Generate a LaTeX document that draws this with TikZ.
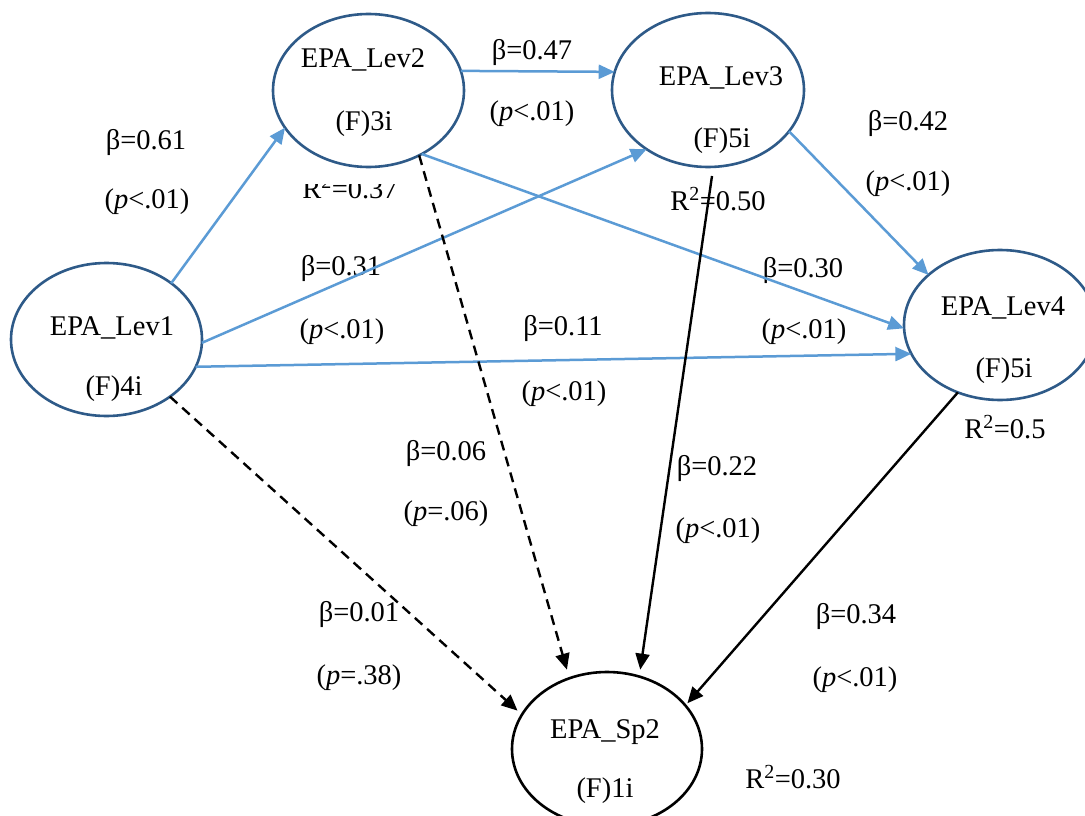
\documentclass[tikz,border=0pt]{standalone}
\usepackage{fontspec}
\setmainfont{Liberation Serif}
\usetikzlibrary{shapes.geometric,arrows.meta}
\definecolor{ringblue}{HTML}{2E5A88}
\definecolor{pathblue}{HTML}{5B9BD5}
\tikzset{
  latent/.style={ellipse, draw=ringblue, line width=2.6pt, minimum width=191pt, minimum height=153pt, inner sep=0pt, outer sep=0pt},
  outcome/.style={latent, draw=black},
  lbl/.style={anchor=base, inner sep=0pt, font=\fontsize{28.5}{34}\selectfont},
  bluepath/.style={draw=pathblue, line width=2.5pt, -{Triangle[length=16pt,width=14pt]}},
  blackpath/.style={draw=black, line width=2.4pt, -{Triangle[length=16pt,width=14pt]}},
  nspath/.style={blackpath, dash pattern=on 10pt off 6.5pt},
}
\begin{document}
\begin{tikzpicture}[x=1pt,y=-1pt]
\useasboundingbox (0,0) rectangle (1085,816);
\fill[white] (0,0) rectangle (1085,816);
\clip (0,0) rectangle (1085,816);

% latent constructs
\node[latent] (lev1) at (106.5,339.5) {};
\node[latent] (lev2) at (368.5,90.5) {};
\node[latent, minimum width=192pt, minimum height=154pt] (lev3) at (708,90) {};
\node[latent, minimum width=192pt, minimum height=150pt] (lev4) at (1000,325) {};
\node[outcome, minimum width=190pt, minimum height=154pt] (sp2) at (607,749) {};

% construct names and indicator counts
\node[lbl] (t1a) at (112,335) {EPA\_Lev1};
\node[lbl] (t1b) at (114,395) {(F)4i};
\node[lbl] (t2a) at (363,68) {EPA\_Lev2};
\node[lbl] (t2b) at (364,130) {(F)3i};
\node[lbl] (t3a) at (721,85) {EPA\_Lev3};
\node[lbl] (t3b) at (722,147) {(F)5i};
\node[lbl] (t4a) at (1003,315) {EPA\_Lev4};
\node[lbl] (t4b) at (1004,377) {(F)5i};
\node[lbl] (t5a) at (605,738) {EPA\_Sp2};
\node[lbl] (t5b) at (605,797) {(F)1i};

% path coefficients
\node[lbl] (b61) at (146,149) {β=0.61};
\node[lbl] (p61) at (147,208) {(\textit{p}<.01)};
\node[lbl] (b47) at (532,60) {β=0.47};
\node[lbl] (p47) at (532,121) {(\textit{p}<.01)};
\node[lbl] (b42) at (908,130) {β=0.42};
\node[lbl] (p42) at (908,190) {(\textit{p}<.01)};
\node[lbl] (b31) at (341,275) {β=0.31};
\node[lbl] (p31) at (342,338) {(\textit{p}<.01)};
\node[lbl] (b30) at (803,277) {β=0.30};
\node[lbl] (p30) at (804,338) {(\textit{p}<.01)};
\node[lbl] (b11) at (563,335) {β=0.11};
\node[lbl] (p11) at (564,400) {(\textit{p}<.01)};
\node[lbl] (b06) at (446,460) {β=0.06};
\node[lbl] (p06) at (446,520) {(\textit{p}=.06)};
\node[lbl] (b22) at (717,475) {β=0.22};
\node[lbl] (p22) at (718,537) {(\textit{p}<.01)};
\node[lbl] (b01) at (359,621) {β=0.01};
\node[lbl] (p01) at (359,684) {(\textit{p}=.38)};
\node[lbl] (b34) at (856,623) {β=0.34};
\node[lbl] (p34) at (855,686) {(\textit{p}<.01)};

% explained variance
\begin{scope}
  \clip (290,184) rectangle (420,215);
  \node[lbl] (r37) at (350,198) {R\textsuperscript{2}=0.37};
\end{scope}
\node[lbl] (r50) at (718,210) {R\textsuperscript{2}=0.50};
\node[lbl] (r5) at (1005,438) {R\textsuperscript{2}=0.5};
\node[lbl] (r30) at (793,788) {R\textsuperscript{2}=0.30};

% structural paths between levels
\draw[bluepath] (lev1.41.3) -- (lev2.204.7);
\draw[bluepath] (lev1.-2.1) -- (lev3.224.5);
\draw[bluepath] (lev1.-17.8) -- (lev4.198.9);
\draw[bluepath] (lev2.12.1) -- (lev3.169.3);
\draw[bluepath] (lev2.-50) -- (lev4.182);
\draw[bluepath] (lev3.-27.7) -- (lev4.145.5);

% paths into the outcome
\coordinate (r3out) at ([xshift=4pt,yshift=-9pt]lev3.south);
\draw[blackpath, shorten >=7pt] (r3out) -- (sp2.66.7);
\draw[blackpath, shorten >=3pt] (lev4.238.4) -- (sp2.29.9);
\draw[nspath, shorten >=9pt] (lev2.-52) -- (sp2.118);
\draw[nspath, shorten >=6pt] (lev1.-42) -- (sp2.158.4);
\end{tikzpicture}
\end{document}
